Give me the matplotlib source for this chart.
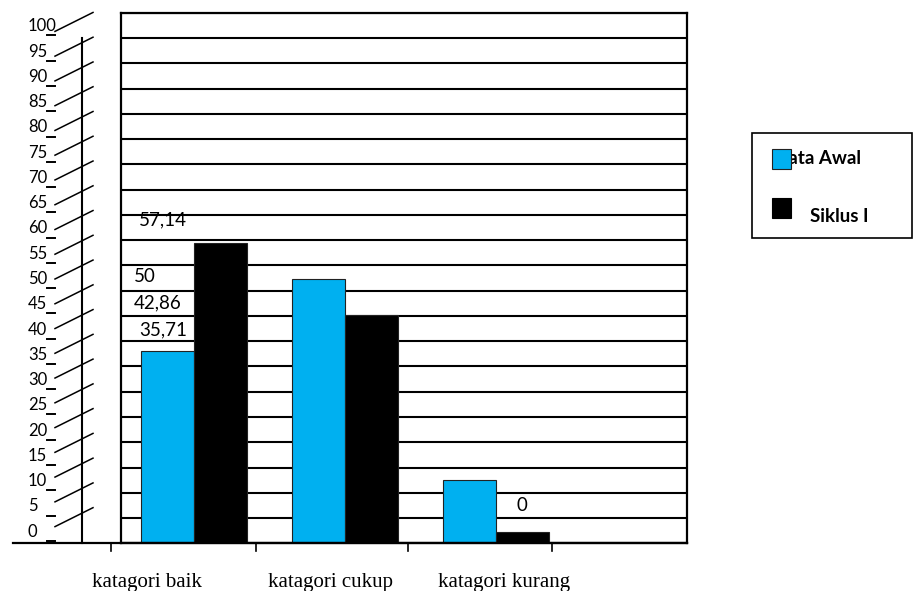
import numpy as np
import matplotlib
matplotlib.use("Agg")
import matplotlib.pyplot as plt
from matplotlib.transforms import blended_transform_factory
from matplotlib.patches import Rectangle

categories = ["katagori baik", "katagori cukup", "katagori kurang"]
series_names = ["Data Awal", "Siklus I"]
data_awal = [35.71, 50, 10.2]
siklus_1 = [57.14, 42.86, 0]
y_ticks = list(range(0, 101, 5))

W, H = 914, 591
BLUE = "#00B0F0"
fig = plt.figure(figsize=(W / 100, H / 100), dpi=100)
ax = fig.add_axes([120.5 / W, 1 - 543.3 / H, (687 - 120.5) / W, (543.3 - 12.7) / H])

# floor of the chart sits a little below zero, like the old 3D wall
floor = -2.3
x0, x1 = -0.487, 3.265

x = np.arange(len(categories))
w = 0.35
ax.hlines(floor + 5 * np.arange(22), x0, x1, color="black", lw=1.5, zorder=1)
ax.bar(x - w / 2, np.array(data_awal) - floor, w, bottom=floor,
       color=BLUE, edgecolor="#222222", lw=0.8, zorder=2)
ax.bar(x + w / 2, np.array(siklus_1) - floor, w, bottom=floor,
       color="black", edgecolor="#222222", lw=0.8, zorder=2)

# value labels, all pushed to the left like in the original sheet
value_labels = [
    (data_awal[0], -0.206, 4.2),
    (siklus_1[0], -0.208, 4.6),
    (data_awal[1], -0.325, 0.5),
    (siklus_1[1], -0.238, 2.4),
    (siklus_1[2], 2.172, 5.2),
]
for v, lx, dy in value_labels:
    ax.text(lx, v + dy, f"{v:g}".replace(".", ","), ha="center", va="center",
            fontsize=13.5, family="Lato", zorder=3)

for s in ax.spines.values():
    s.set_linewidth(1.6)
ax.set_yticks([])
ax.set_xticks([])
ax.set_xlim(x0, x1)
ax.set_ylim(floor, floor + 105)

fy = blended_transform_factory(fig.transFigure, ax.transData)
fx = blended_transform_factory(ax.transData, fig.transFigure)

# category boundary ticks under the baseline (first one sits outside the frame)
for tx in [-0.55, 0.41, 1.42, 2.37]:
    ax.plot([tx, tx], [1 - 543.3 / H, 1 - 551 / H], transform=fx,
            color="black", lw=1.2, clip_on=False)

# y labels with their slanted guide lines
for v in y_ticks:
    ax.text(28 / W, v, str(v), transform=fy, ha="left", va="center",
            fontsize=12, family="Lato")
    ax.plot([46.7 / W, 55 / W], [v - 1.8, v - 1.8], transform=fy,
            color="black", lw=1.4, clip_on=False)
    ax.plot([55 / W, 93 / W], [0.98 * v + 1, 0.98 * v + 4.75], transform=fy,
            color="black", lw=1.1, clip_on=False)

ax.plot([82 / W, 82 / W], [floor, floor + 100], transform=fy,
        color="black", lw=1.5, clip_on=False)
ax.plot([12.7 / W, 687 / W], [floor, floor], transform=fy,
        color="black", lw=1.6, clip_on=False)

for cx, name in zip([-0.313, 0.903, 2.053], categories):
    ax.text(cx, 1 - 586.7 / H, name, transform=fx, ha="center", va="baseline",
            fontsize=15, family="Liberation Serif")

# legend box
def px(xp, yp):
    return xp / W, 1 - yp / H

fig.patches.append(Rectangle(px(751.7, 238.3), (912 - 751.7) / W, (238.3 - 133.3) / H,
                             transform=fig.transFigure, fill=False, ec="black", lw=1.2))
fig.text(*px(773.5, 163.5), series_names[0], ha="left", va="baseline",
         fontsize=13.5, fontweight="bold", family="Lato", zorder=1)
fig.patches.append(Rectangle(px(771.7, 169.3), 19 / W, 20 / H, transform=fig.transFigure,
                             fc=BLUE, ec="#222222", lw=0.8, zorder=3))
fig.patches.append(Rectangle(px(771.7, 217.7), 19 / W, 20 / H, transform=fig.transFigure,
                             fc="black", ec="black", lw=0.8, zorder=3))
fig.text(*px(810, 222.5), series_names[1], ha="left", va="baseline",
         fontsize=13.5, fontweight="bold", family="Lato")

fig.savefig("out.png", dpi=100)
